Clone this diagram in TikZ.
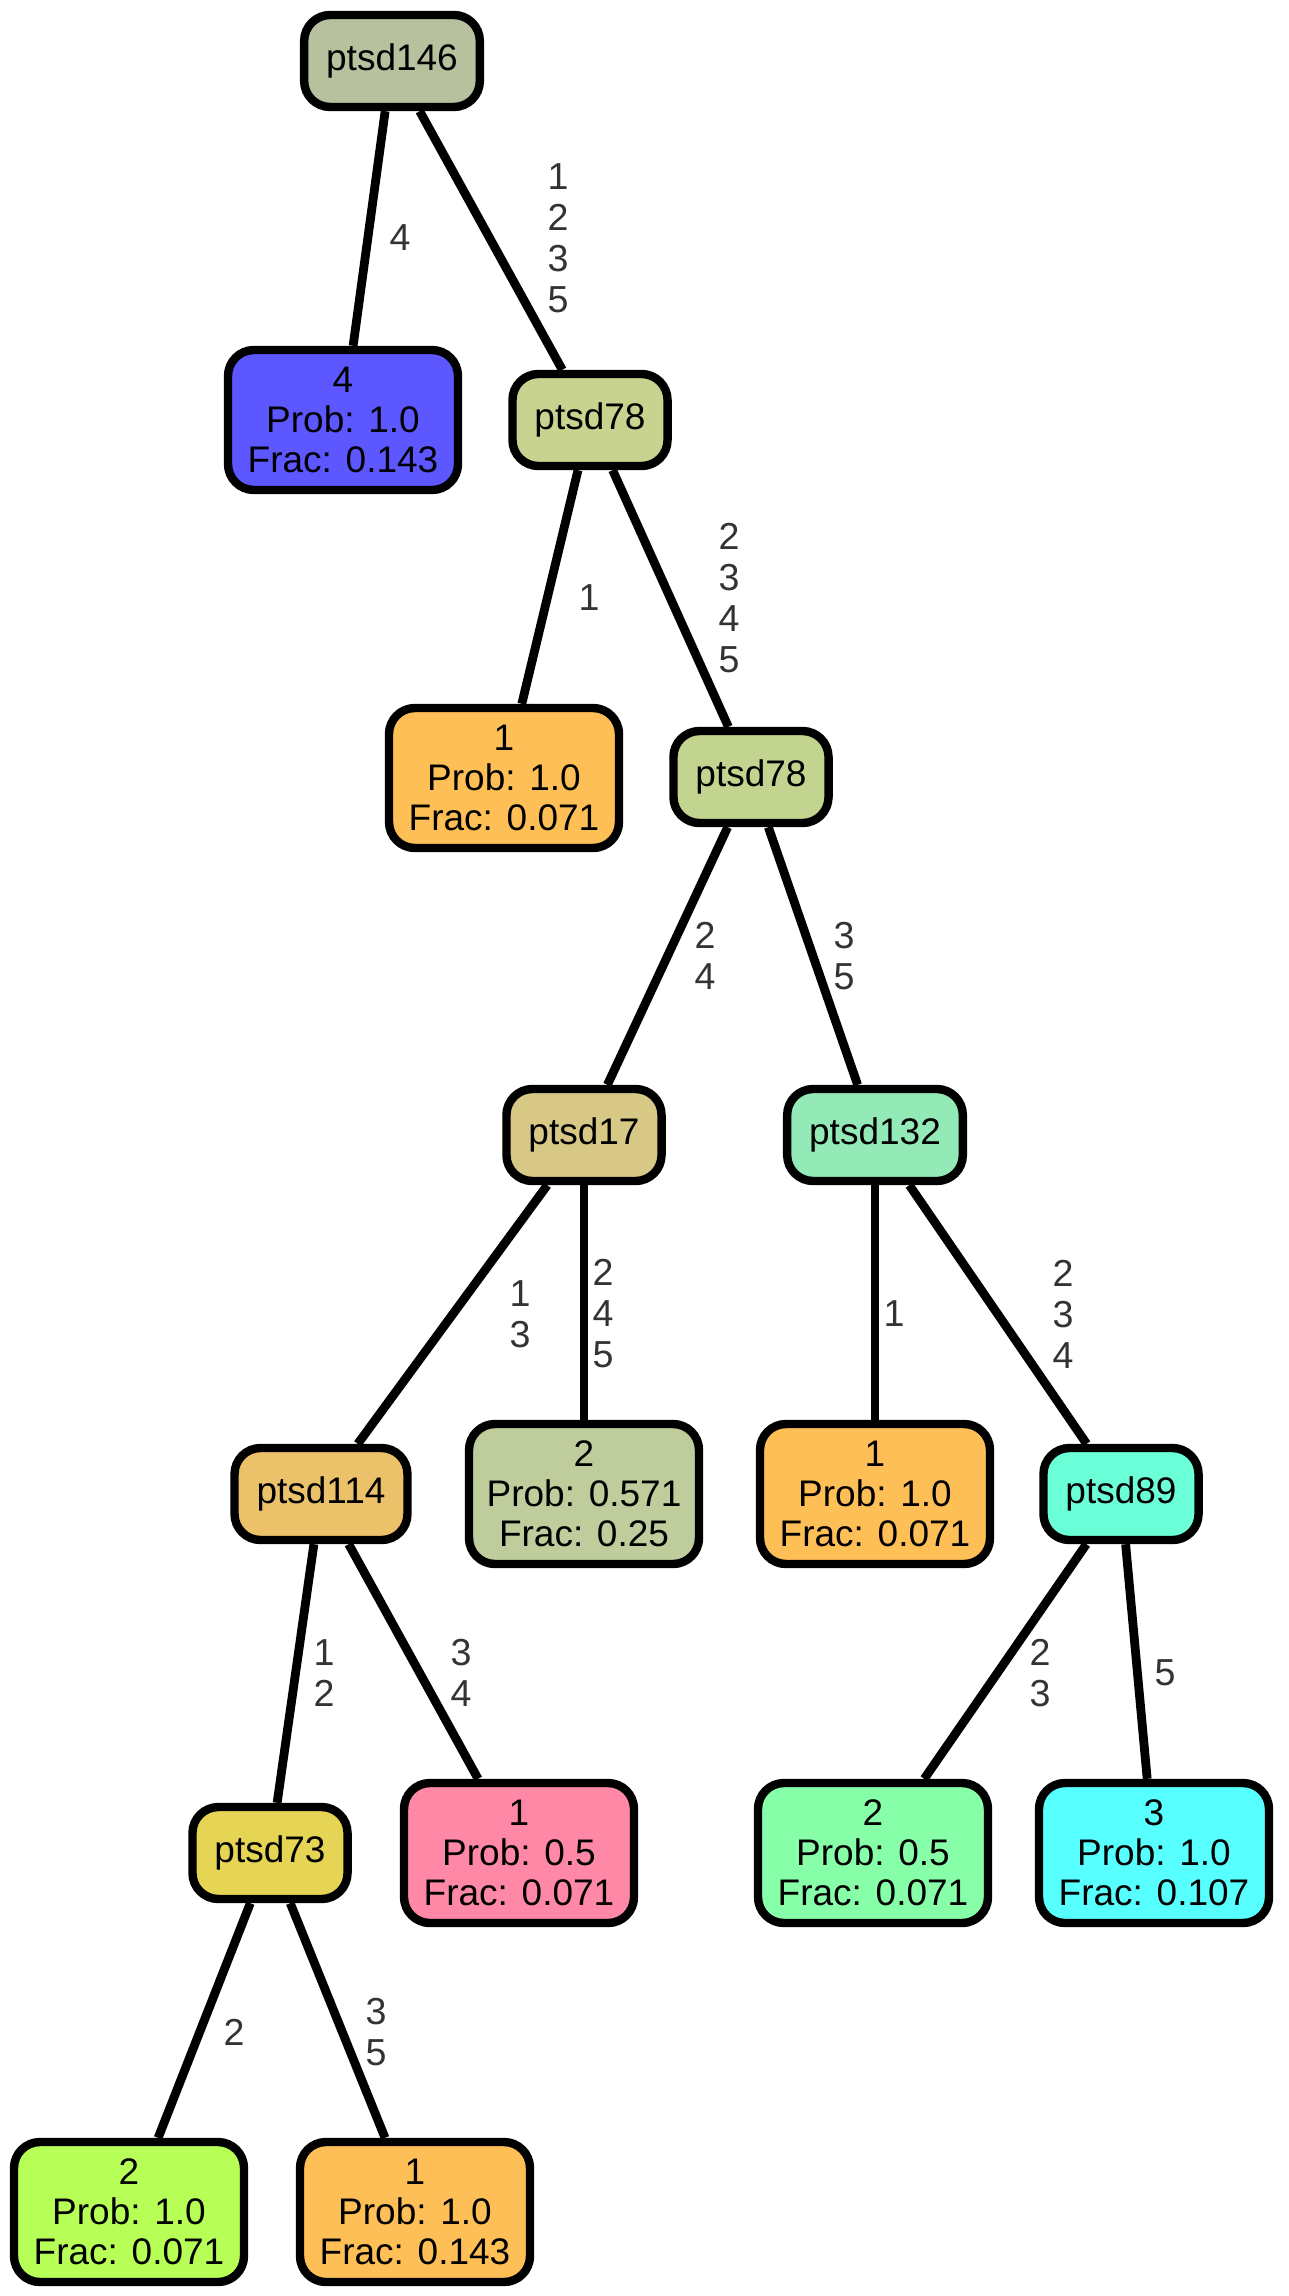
\documentclass[tikz,border=0pt]{standalone}
\usepackage{fontspec}
\setmainfont{Liberation Sans}
\usepackage{tikz}
\definecolor{cRoot}{HTML}{B8C19E}
\definecolor{cBlue}{HTML}{5C57FF}
\definecolor{cSplitA}{HTML}{C8D38F}
\definecolor{cOrange}{HTML}{FFBF57}
\definecolor{cSplitB}{HTML}{C2D490}
\definecolor{cSplitC}{HTML}{D7C885}
\definecolor{cSplitD}{HTML}{93EAB7}
\definecolor{cSplitE}{HTML}{EBC26A}
\definecolor{cSage}{HTML}{BFCD9C}
\definecolor{cSplitF}{HTML}{6BFFD8}
\definecolor{cSplitG}{HTML}{E6D555}
\definecolor{cPink}{HTML}{FF88A7}
\definecolor{cMint}{HTML}{87FFA9}
\definecolor{cCyan}{HTML}{57FFFF}
\definecolor{cLime}{HTML}{B7FF57}

\begin{document}
\begin{tikzpicture}[x=0.5pt,y=-0.5pt,
  split/.style={draw, line width=4.2pt, rounded corners=13pt, minimum height=46pt, inner xsep=11pt, font=\fontsize{18.5}{20}\selectfont},
  leaf/.style={draw, line width=4.2pt, rounded corners=13pt, minimum width=115pt, minimum height=70pt, inner sep=0pt, align=center, font=\fontsize{18.5}{20}\selectfont},
  elabel/.style={align=center, text=black!80, inner sep=0pt, font=\fontsize{18.8}{20.5}\selectfont},
  link/.style={line width=4.4pt}]
\useasboundingbox (0,0) rectangle (1289,2296);
%%Splits
\node[split, fill=cRoot] (n146) at (392,61) {ptsd146};
\node[split, fill=cSplitA] (n78a) at (590,420) {ptsd78};
\node[split, fill=cSplitB] (n78b) at (751,777) {ptsd78};
\node[split, fill=cSplitC] (n17) at (584,1135) {ptsd17};
\node[split, fill=cSplitD] (n132) at (875,1135) {ptsd132};
\node[split, fill=cSplitE] (n114) at (321,1494) {ptsd114};
\node[split, fill=cSplitF] (n89) at (1121,1494) {ptsd89};
\node[split, fill=cSplitG] (n73) at (270,1853) {ptsd73};

%%Leaves
\node[leaf, fill=cBlue] (leafA) at (343,420) {4\\Prob: 1.0\\Frac: 0.143};
\node[leaf, fill=cOrange] (leafB) at (504,778) {1\\Prob: 1.0\\Frac: 0.071};
\node[leaf, fill=cSage] (leafC) at (584,1494) {2\\Prob: 0.571\\Frac: 0.25};
\node[leaf, fill=cOrange] (leafD) at (875,1494) {1\\Prob: 1.0\\Frac: 0.071};
\node[leaf, fill=cPink] (leafE) at (519,1853) {1\\Prob: 0.5\\Frac: 0.071};
\node[leaf, fill=cMint] (leafF) at (873,1853) {2\\Prob: 0.5\\Frac: 0.071};
\node[leaf, fill=cCyan] (leafG) at (1154,1853) {3\\Prob: 1.0\\Frac: 0.107};
\node[leaf, fill=cLime] (leafH) at (129,2212) {2\\Prob: 1.0\\Frac: 0.071};
\node[leaf, fill=cOrange] (leafI) at (415,2212) {1\\Prob: 1.0\\Frac: 0.143};

%%Edges
\draw[link] (n146) -- (leafA);
\draw[link] (n146) -- (n78a);
\draw[link] (n78a) -- (leafB);
\draw[link] (n78a) -- (n78b);
\draw[link] (n78b) -- (n17);
\draw[link] (n78b) -- (n132);
\draw[link] (n17) -- (n114);
\draw[link] (n17) -- (leafC);
\draw[link] (n132) -- (leafD);
\draw[link] (n132) -- (n89);
\draw[link] (n114) -- (n73);
\draw[link] (n114) -- (leafE);
\draw[link] (n89) -- (leafF);
\draw[link] (n89) -- (leafG);
\draw[link] (n73) -- (leafH);
\draw[link] (n73) -- (leafI);

%%Label
\node[elabel] (e1) at (400,238) {4};
\node[elabel] (e2) at (558,238) {1\\2\\3\\5};
\node[elabel] (e3) at (589,598) {1};
\node[elabel] (e4) at (729,598) {2\\3\\4\\5};
\node[elabel] (e5) at (705,956) {2\\4};
\node[elabel] (e6) at (844,956) {3\\5};
\node[elabel] (e7) at (520,1314) {1\\3};
\node[elabel] (e8) at (603,1314) {2\\4\\5};
\node[elabel] (e9) at (894,1314) {1};
\node[elabel] (e10) at (1063,1314) {2\\3\\4};
\node[elabel] (e11) at (324,1673) {1\\2};
\node[elabel] (e12) at (461,1673) {3\\4};
\node[elabel] (e13) at (1040,1673) {2\\3};
\node[elabel] (e14) at (1165,1673) {5};
\node[elabel] (e15) at (234,2032) {2};
\node[elabel] (e16) at (376,2032) {3\\5};
\end{tikzpicture}
\end{document}
